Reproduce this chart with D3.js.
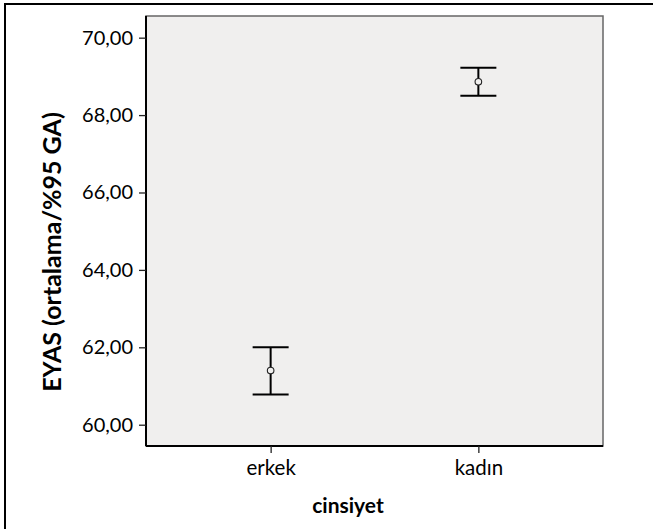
<!DOCTYPE html>
<html>
<head>
<meta charset="utf-8">
<script src="https://cdn.jsdelivr.net/npm/d3@7"></script>
<style>
  body { margin: 0; background: #fff; }
  svg text { font-family: Lato, 'Open Sans', sans-serif; fill: #000; }
</style>
</head>
<body>
<div id="chart"></div>
<script>
var categories = ['erkek', 'kadın'];
var means = [61.40, 68.86];
var lower = [60.78, 68.50];
var upper = [62.00, 69.22];
var yTicks = [60, 62, 64, 66, 68, 70];

var w = 653, h = 529;
var plot = { left: 146, top: 16, right: 603, bottom: 446 };

var svg = d3.select('#chart').append('svg')
  .attr('width', w)
  .attr('height', h);

/* outer frame (top + left only) */
svg.append('line')
  .attr('x1', 4).attr('y1', 4).attr('x2', w).attr('y2', 4)
  .style('stroke', '#000').style('stroke-width', 2);
svg.append('line')
  .attr('x1', 5).attr('y1', 4).attr('x2', 5).attr('y2', h)
  .style('stroke', '#000').style('stroke-width', 2);

var y = d3.scaleLinear()
  .domain([59.45, 70.56])
  .range([plot.bottom, plot.top]);

var x = d3.scalePoint()
  .domain(categories)
  .range([plot.left, plot.right])
  .padding(0.6);

/* plot background */
svg.append('rect')
  .attr('x', plot.left)
  .attr('y', plot.top)
  .attr('width', plot.right - plot.left)
  .attr('height', plot.bottom - plot.top)
  .style('fill', '#f0efee')
  .style('stroke', '#666')
  .style('stroke-width', 1.5);

/* axes */
var yAxis = svg.append('g')
  .attr('transform', 'translate(' + plot.left + ',0)')
  .call(d3.axisLeft(y).tickValues(yTicks).tickSize(7).tickPadding(6)
    .tickFormat(function (d) { return d3.format('.2f')(d).replace('.', ','); }));
yAxis.select('.domain').style('stroke', '#000').style('stroke-width', 2)
  .attr('d', 'M0,' + plot.top + 'V' + plot.bottom);
yAxis.selectAll('.tick line').style('stroke', '#222').style('stroke-width', 1.3);
yAxis.selectAll('text').style('font-size', '20px');

var xAxis = svg.append('g')
  .attr('transform', 'translate(0,' + plot.bottom + ')')
  .call(d3.axisBottom(x).tickSize(7).tickPadding(7));
xAxis.select('.domain').style('stroke', '#000').style('stroke-width', 2)
  .attr('d', 'M' + plot.left + ',0H' + plot.right);
xAxis.selectAll('.tick line').style('stroke', '#222').style('stroke-width', 1.3);
xAxis.selectAll('text').style('font-size', '20.5px');

/* axis titles */
svg.append('text')
  .text('EYAS (ortalama/%95 GA)')
  .attr('transform', 'translate(61,252) rotate(-90)')
  .attr('text-anchor', 'middle')
  .style('font-weight', 'bold')
  .style('font-size', '25px');

svg.append('text')
  .text('cinsiyet')
  .attr('x', 348)
  .attr('y', 513)
  .attr('text-anchor', 'middle')
  .style('font-weight', 'bold')
  .style('font-size', '21px');

/* error bars */
var capHalf = 18;
var bars = svg.selectAll('.bar')
  .data(categories)
  .enter()
  .append('g')
  .attr('class', 'bar');

bars.append('line')
  .attr('x1', function (d) { return x(d); })
  .attr('x2', function (d) { return x(d); })
  .attr('y1', function (d, i) { return y(upper[i]); })
  .attr('y2', function (d, i) { return y(lower[i]); })
  .style('stroke', '#000').style('stroke-width', 2);

bars.append('line')
  .attr('x1', function (d) { return x(d) - capHalf; })
  .attr('x2', function (d) { return x(d) + capHalf; })
  .attr('y1', function (d, i) { return y(upper[i]); })
  .attr('y2', function (d, i) { return y(upper[i]); })
  .style('stroke', '#000').style('stroke-width', 2);

bars.append('line')
  .attr('x1', function (d) { return x(d) - capHalf; })
  .attr('x2', function (d) { return x(d) + capHalf; })
  .attr('y1', function (d, i) { return y(lower[i]); })
  .attr('y2', function (d, i) { return y(lower[i]); })
  .style('stroke', '#000').style('stroke-width', 2);

bars.append('circle')
  .attr('cx', function (d) { return x(d); })
  .attr('cy', function (d, i) { return y(means[i]); })
  .attr('r', 3.3)
  .style('fill', '#f0efee')
  .style('stroke', '#222')
  .style('stroke-width', 1.1);
</script>
</body>
</html>
